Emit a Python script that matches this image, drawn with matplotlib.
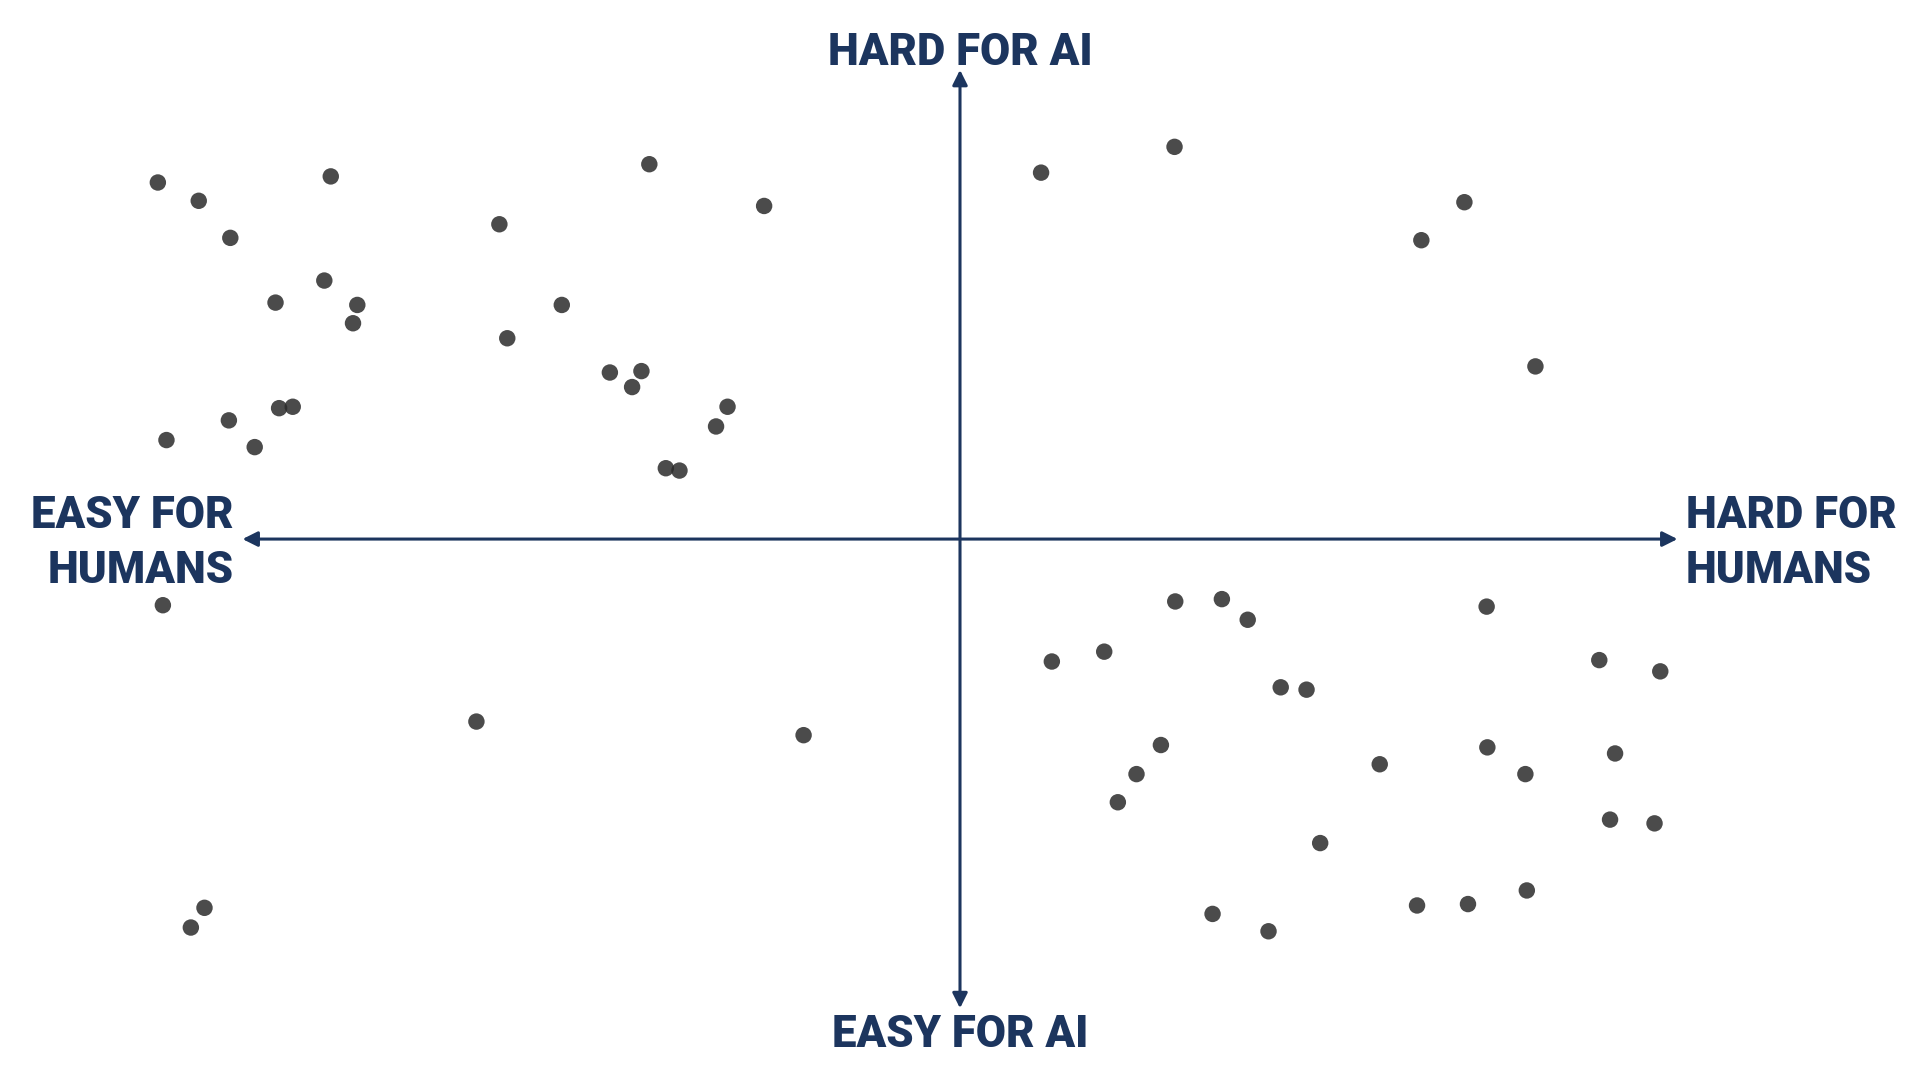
import matplotlib
matplotlib.use("Agg")
import matplotlib.pyplot as plt

# Scatter data (x: easy->hard for humans, y: easy->hard for AI), axis arrows span -100..100
x_vals = [
    # upper-left
    -111.8, -106.1, -101.7, -87.7, -95.4, -88.6, -84.0, -84.6, -64.2, -43.3,
    -27.3, -55.5, -63.1, -48.8, -44.4, -45.7, -32.4, -34.0, -41.0, -39.1,
    -94.9, -93.0, -101.9, -110.6, -98.3,
    # upper-right
    11.3, 29.9, 70.3, 64.3, 80.2,
    # lower-left
    -111.1, -67.4, -21.8, -105.3, -107.2,
    # lower-right
    30.0, 36.5, 40.1, 73.4, 12.8, 20.1, 44.7, 48.3, 89.1, 97.6,
    28.0, 24.6, 22.0, 58.5, 73.5, 78.8, 91.3, 50.2, 90.6, 96.8,
    35.2, 43.0, 63.7, 70.8, 79.0,
]
y_vals = [
    76.0, 72.1, 64.2, 77.3, 50.4, 55.1, 49.9, 46.0, 67.1, 79.9,
    71.0, 49.9, 42.8, 35.5, 35.8, 32.4, 28.2, 24.0, 15.1, 14.6,
    27.9, 28.2, 25.3, 21.1, 19.6,
    78.1, 83.6, 71.8, 63.7, 36.8,
    -14.1, -38.9, -41.8, -78.6, -82.8,
    -13.3, -12.8, -17.2, -14.4, -26.1, -24.0, -31.6, -32.1, -25.8, -28.2,
    -43.9, -50.1, -56.1, -48.0, -44.4, -50.1, -45.7, -64.8, -59.8, -60.6,
    -79.9, -83.6, -78.1, -77.8, -74.9,
]

label_top = "HARD FOR AI"
label_bottom = "EASY FOR AI"
label_left = "EASY FOR\nHUMANS"
label_right = "HARD FOR\nHUMANS"

NAVY = "#1c355e"
FONT = ["Roboto", "DejaVu Sans"]

fig = plt.figure(figsize=(19.2, 10.8), dpi=100)
ax = fig.add_axes([0, 0, 1, 1])
ax.set_xlim(-133.8, 133.8)
ax.set_ylim(-115.3, 114.9)
ax.axis("off")

arrow_kw = dict(arrowstyle="<|-|>,head_length=0.9,head_width=0.45",
                color=NAVY, lw=2.2, shrinkA=0, shrinkB=0)
ax.annotate("", xy=(100, 0), xytext=(-100, 0), arrowprops=arrow_kw)
ax.annotate("", xy=(0, 100), xytext=(0, -100), arrowprops=arrow_kw)

ax.scatter(x_vals, y_vals, s=140, color="#2b2b2b", alpha=0.85,
           edgecolors="none", zorder=3)

tkw = dict(color=NAVY, fontsize=31.5, fontweight="black", family=FONT)
ax.text(0, 103.7, label_top, ha="center", va="center", **tkw)
ax.text(0, -105.8, label_bottom, ha="center", va="center", **tkw)
ax.text(-101.2, -1.0, label_left, ha="right", va="center",
        multialignment="right", linespacing=1.40, **tkw)
ax.text(101.2, -1.0, label_right, ha="left", va="center",
        multialignment="left", linespacing=1.40, **tkw)

fig.savefig("out.png", dpi=100, facecolor="white")
